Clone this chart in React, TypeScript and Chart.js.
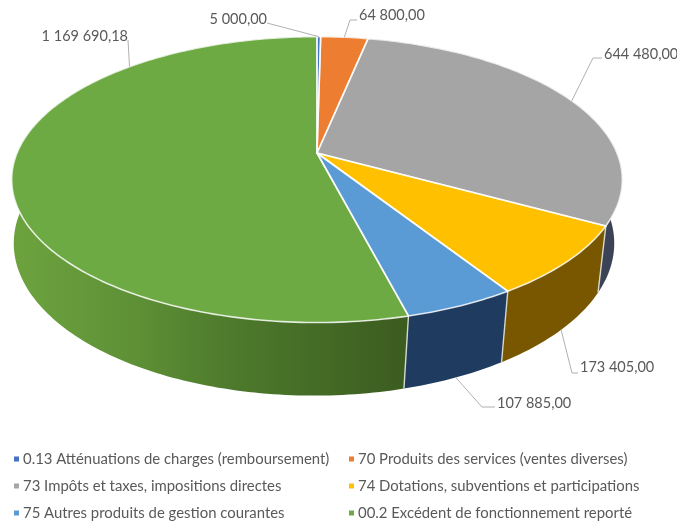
import React, { useEffect, useRef } from "react";
import { Chart, registerables } from "chart.js";

Chart.register(...registerables);

const categories = [
  "0.13 Atténuations de charges (remboursement)",
  "70 Produits des services (ventes diverses)",
  "73 Impôts et taxes, impositions directes",
  "74 Dotations, subventions et participations",
  "75 Autres produits de gestion courantes",
  "00.2 Excédent de fonctionnement reporté",
];
const values = [5000, 64800, 644480, 173405, 107885, 1169690.18];
const valueLabels = ["5 000,00", "64 800,00", "644 480,00", "173 405,00", "107 885,00", "1 169 690,18"];
const topColors = ["#4472c4", "#ed7d31", "#a5a5a5", "#ffc000", "#5b9bd5", "#6eaa44"];
const sideColors = ["#28447a", "#8f4b1d", "#3d4356", "#795600", "#1f3c60", "#3f6522"];

// Geometry of the projected disc (perspective view of the pie)
const APEX = { x: 317, y: 153 };
const PERSPECTIVE = 0.186;
const TOP = { r: 300, a: 138, dx: 0, dy: 0 };
const BOTTOM = { r: 295, a: 147, dx: -3, dy: 62 };
const FONT = "Lato, Carlito, sans-serif";

// Callouts: anchor angle on a rim, optional elbow, text position
const callouts: any[] = [
  { ang: 0.4, rim: TOP, elbow: null, tx: 267, ty: 19, align: "right" },
  { ang: 6.2, rim: TOP, elbow: [350, 20], tx: 359, ty: 15, align: "left" },
  { ang: 66, rim: TOP, elbow: [593, 58], tx: 604, ty: 54, align: "left" },
  { ang: 133, rim: BOTTOM, elbow: [572, 373], tx: 580, ty: 367, align: "left" },
  { ang: 156.5, rim: BOTTOM, elbow: [482, 407], tx: 497, ty: 403, align: "left" },
  { ang: 315, rim: TOP, elbow: null, tx: 128, ty: 36, align: "right" },
];

// Legend grid
const legendCols = [14, 349];
const legendRows = [459, 486, 513];

function project(theta: number, g: { r: number; a: number; dx: number; dy: number }) {
  const X = Math.sin(theta);
  const Y = -Math.cos(theta);
  const w = 1 - PERSPECTIVE * Y;
  return { x: APEX.x + g.dx + (g.r * X) / w, y: APEX.y + g.dy + (g.a * Y) / w };
}

function traceRim(ctx: CanvasRenderingContext2D, a: number, b: number, g: any, move: boolean) {
  const n = Math.max(2, Math.ceil(Math.abs(b - a) / (Math.PI / 180)));
  for (let i = 0; i <= n; i++) {
    const p = project(a + ((b - a) * i) / n, g);
    if (i === 0 && move) ctx.moveTo(p.x, p.y);
    else ctx.lineTo(p.x, p.y);
  }
}

const pie3d = {
  id: "pie3d",
  beforeDatasetsDraw(chart: any) {
    const ctx: CanvasRenderingContext2D = chart.ctx;
    const arcs = chart.getDatasetMeta(0).data.map((el: any, i: number) => ({
      i,
      a: el.startAngle + Math.PI / 2,
      b: el.endAngle + Math.PI / 2,
    }));
    ctx.save();

    // side wall, back to front
    const order = [...arcs].sort(
      (p: any, q: any) => -Math.cos((p.a + p.b) / 2) - -Math.cos((q.a + q.b) / 2)
    );
    for (const s of order) {
      ctx.beginPath();
      traceRim(ctx, s.a, s.b, TOP, true);
      traceRim(ctx, s.b, s.a, BOTTOM, false);
      ctx.closePath();
      if (s.i === 5) {
        const g = ctx.createLinearGradient(20, 0, 405, 0);
        g.addColorStop(0, "#6ca23e");
        g.addColorStop(0.3, "#5e9036");
        g.addColorStop(0.55, "#4d7a2c");
        g.addColorStop(1, "#3c5c20");
        ctx.fillStyle = g;
      } else {
        ctx.fillStyle = sideColors[s.i];
      }
      ctx.fill();
    }

    // seams on the wall
    ctx.strokeStyle = "rgba(225,228,215,0.9)";
    ctx.lineWidth = 1.4;
    for (const s of arcs) {
      if (-Math.cos(s.b) > 0.2 && s.i < 5) {
        const p = project(s.b, TOP);
        const q = project(s.b, BOTTOM);
        ctx.beginPath();
        ctx.moveTo(p.x, p.y);
        ctx.lineTo(q.x, q.y);
        ctx.stroke();
      }
    }

    // top face
    for (const s of arcs) {
      ctx.beginPath();
      ctx.moveTo(APEX.x, APEX.y);
      traceRim(ctx, s.a, s.b, TOP, false);
      ctx.closePath();
      ctx.fillStyle = topColors[s.i];
      ctx.fill();
    }
    ctx.strokeStyle = "rgba(255,255,255,0.8)";
    ctx.lineWidth = 1.6;
    ctx.lineJoin = "round";
    for (const s of arcs) {
      ctx.beginPath();
      ctx.moveTo(APEX.x, APEX.y);
      traceRim(ctx, s.a, s.b, TOP, false);
      ctx.closePath();
      ctx.stroke();
    }

    // callouts
    ctx.font = `14.5px ${FONT}`;
    ctx.textBaseline = "middle";
    callouts.forEach((c, i) => {
      const p = project((c.ang * Math.PI) / 180, c.rim);
      ctx.strokeStyle = "#b0b0b0";
      ctx.lineWidth = 1;
      ctx.beginPath();
      ctx.moveTo(p.x, p.y);
      if (c.elbow) {
        ctx.lineTo(c.elbow[0], c.elbow[1]);
        ctx.lineTo(c.tx - (c.elbow[0] < c.tx ? 2 : 0), c.elbow[1]);
      } else {
        ctx.lineTo(c.tx, c.ty + 4);
      }
      ctx.stroke();
      ctx.fillStyle = "#595959";
      ctx.textAlign = c.align;
      ctx.fillText(valueLabels[i], c.tx, c.ty);
    });

    // legend
    ctx.textAlign = "left";
    ctx.font = `14.9px ${FONT}`;
    categories.forEach((label, i) => {
      const x = legendCols[i % 2];
      const y = legendRows[Math.floor(i / 2)];
      ctx.fillStyle = topColors[i];
      ctx.fillRect(x, y - 2.5, 5, 5);
      ctx.fillStyle = "#595959";
      ctx.fillText(label, x + 9, y);
    });

    ctx.restore();
    return false;
  },
};

export default function App() {
  const ref = useRef<HTMLCanvasElement | null>(null);
  useEffect(() => {
    const chart = new Chart(ref.current as HTMLCanvasElement, {
      type: "pie",
      data: {
        labels: categories,
        datasets: [{ data: values, backgroundColor: topColors }],
      },
      options: {
        responsive: false,
        animation: false,
        plugins: { legend: { display: false }, tooltip: { enabled: false } },
      },
      plugins: [pie3d],
    } as any);
    return () => chart.destroy();
  }, []);
  return (
    <div style={{ position: "absolute", left: 0, top: 0, width: 677, height: 525, background: "#fff" }}>
      <canvas ref={ref} width={677} height={525} style={{ display: "block", filter: "blur(0.4px)" }} />
    </div>
  );
}
